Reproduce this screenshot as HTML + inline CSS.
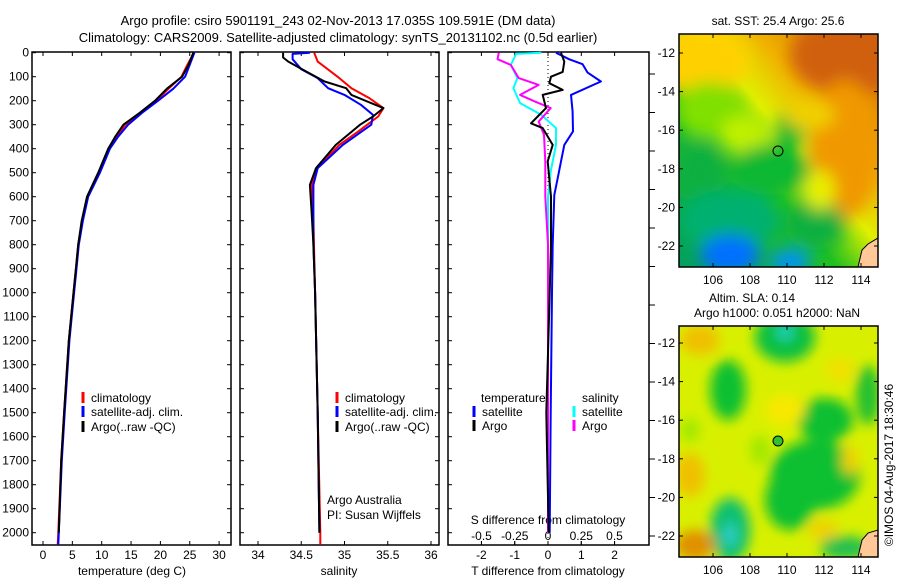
<!DOCTYPE html>
<html><head><meta charset="utf-8"><style>
html,body{margin:0;padding:0;background:#fff;}
svg{display:block;font-family:"Liberation Sans",sans-serif;}
text{font-size:12px;fill:#000;}
</style></head><body>
<svg id="fig" width="900" height="580" viewBox="0 0 900 580" xmlns="http://www.w3.org/2000/svg">
<defs>
<filter id="blur1" x="-20%" y="-20%" width="140%" height="140%"><feGaussianBlur stdDeviation="8"/></filter>
<filter id="blur2" x="-20%" y="-20%" width="140%" height="140%"><feGaussianBlur stdDeviation="6"/></filter>
<clipPath id="clipM1"><rect x="679" y="34" width="199" height="233"/></clipPath>
<clipPath id="clipM2"><rect x="679" y="326" width="199" height="231"/></clipPath>
<linearGradient id="g1" x1="0" y1="1" x2="1" y2="0">
<stop offset="0" stop-color="#00a060"/><stop offset="0.4" stop-color="#20c020"/><stop offset="0.55" stop-color="#e0f000"/><stop offset="0.7" stop-color="#f0b000"/><stop offset="1" stop-color="#d06000"/></linearGradient>
</defs>
<text x="338" y="25" text-anchor="middle" style="font-size:13px">Argo profile: csiro 5901191_243 02-Nov-2013 17.035S 109.591E (DM data)</text>
<text x="338" y="42" text-anchor="middle" style="font-size:13px">Climatology: CARS2009. Satellite-adjusted climatology: synTS_20131102.nc (0.5d earlier)</text>
<g id="axes"></g>
<g id="series"></g>
<g id="legends"></g>
<!-- Map 1: SST -->
<g>
<text x="778" y="25" text-anchor="middle">sat. SST: 25.4 Argo: 25.6</text>
<g clip-path="url(#clipM1)">
<rect x="679" y="34" width="199" height="233" fill="url(#g1)"/>
<g filter="url(#blur1)">
<ellipse cx="700" cy="60" rx="50" ry="35" fill="#ffd000"/>
<ellipse cx="850" cy="55" rx="60" ry="40" fill="#d06010"/>
<ellipse cx="845" cy="150" rx="35" ry="70" fill="#f09800"/>
<ellipse cx="710" cy="110" rx="35" ry="28" fill="#80e000"/>
<ellipse cx="745" cy="135" rx="25" ry="20" fill="#c0f000"/>
<ellipse cx="770" cy="170" rx="40" ry="25" fill="#10b830"/>
<ellipse cx="790" cy="130" rx="15" ry="20" fill="#10b830"/>
<ellipse cx="700" cy="175" rx="25" ry="35" fill="#10b040"/>
<ellipse cx="730" cy="220" rx="50" ry="30" fill="#00b070"/>
<ellipse cx="730" cy="255" rx="30" ry="20" fill="#0070ff"/>
<ellipse cx="790" cy="262" rx="20" ry="12" fill="#0090ff"/>
<ellipse cx="815" cy="225" rx="30" ry="25" fill="#10b040"/>
<ellipse cx="820" cy="190" rx="15" ry="20" fill="#e8f000"/>
<ellipse cx="810" cy="115" rx="25" ry="15" fill="#f0d000"/>
</g>
<polygon points="858,267 862,250 868,244 878,238 878,267" fill="#ffc896" stroke="#000" stroke-width="1"/>
</g>
<circle cx="778" cy="151" r="5" fill="none" stroke="#000" stroke-width="1"/>
<rect x="679" y="34" width="199" height="233" fill="none" stroke="#000" stroke-width="1.5"/>
<g id="map1ticks"></g>
</g>
<!-- Map 2: SLA -->
<g>
<text x="752" y="302" text-anchor="middle">Altim. SLA: 0.14</text>
<text x="777" y="317" text-anchor="middle">Argo h1000: 0.051 h2000: NaN</text>
<g clip-path="url(#clipM2)">
<rect x="679" y="326" width="199" height="231" fill="#d8f000"/>
<g filter="url(#blur2)">
<ellipse cx="785" cy="337" rx="30" ry="25" fill="#10c040"/>
<ellipse cx="785" cy="332" rx="8" ry="8" fill="#20d0c0"/>
<ellipse cx="728" cy="390" rx="18" ry="30" fill="#10c030"/>
<ellipse cx="825" cy="420" rx="28" ry="22" fill="#10c030"/>
<ellipse cx="815" cy="475" rx="45" ry="35" fill="#10c030"/>
<ellipse cx="790" cy="500" rx="25" ry="30" fill="#10c030"/>
<ellipse cx="868" cy="395" rx="12" ry="30" fill="#20c030"/>
<ellipse cx="730" cy="530" rx="20" ry="32" fill="#10c070"/>
<ellipse cx="730" cy="535" rx="6" ry="12" fill="#30d0d0"/>
<ellipse cx="700" cy="340" rx="20" ry="15" fill="#f0c000"/>
<ellipse cx="690" cy="475" rx="15" ry="22" fill="#f0c000"/>
<ellipse cx="695" cy="545" rx="20" ry="15" fill="#e09000"/>
<ellipse cx="823" cy="530" rx="15" ry="10" fill="#f0d000"/>
<ellipse cx="850" cy="460" rx="8" ry="15" fill="#f0d000"/>
<ellipse cx="785" cy="410" rx="20" ry="15" fill="#f8e800"/>
<ellipse cx="845" cy="548" rx="25" ry="12" fill="#20c050"/>
<ellipse cx="840" cy="370" rx="15" ry="12" fill="#f0e000"/>
<ellipse cx="690" cy="430" rx="10" ry="12" fill="#a0e800"/>
<ellipse cx="760" cy="450" rx="10" ry="15" fill="#a0e800"/>
</g>
<polygon points="858,557 862,540 868,533 878,530 878,557" fill="#ffc896" stroke="#000" stroke-width="1"/>
</g>
<circle cx="778" cy="441" r="5" fill="#30c030" stroke="#000" stroke-width="1"/>
<rect x="679" y="326" width="199" height="231" fill="none" stroke="#000" stroke-width="1.5"/>
<g id="map2ticks"></g>
</g>
<text x="893" y="465" text-anchor="middle" transform="rotate(-90 893 465)">©IMOS 04-Aug-2017 18:30:46</text>
</svg>
<script>
// ---- data ----
const tDepthBlack = [0,50,100,150,200,250,300,350,400,500,600,700,800,900,1000,1200,1500,1700,2000];
const tempArgo =    [25.6,24.8,23.7,21.1,19.1,16.5,13.7,12.3,11.1,9.4,7.5,6.6,6.0,5.6,5.2,4.4,3.6,3.1,2.7];
const tDepthClim = [0,50,100,150,200,250,300,350,400,500,600,700,800,900,1000,1200,1500,1700,2000,2050];
const tempClim =   [25.7,24.6,23.6,21.4,19.3,16.8,14.0,12.5,11.2,9.5,7.6,6.7,6.0,5.6,5.2,4.4,3.6,3.1,2.6,2.5];
const tempSat =    [25.8,25.0,24.2,22.2,19.6,16.9,14.5,12.8,11.4,9.7,7.7,6.8,6.1,5.7,5.3,4.5,3.7,3.2,2.7,2.6];

const sDepthArgo = [0,20,37,71,120,148,176,231,266,300,384,481,551,663,800,1000,1500,2000];
const salArgo =    [34.29,34.29,34.35,34.52,34.77,35.02,35.08,35.45,35.33,35.18,34.90,34.67,34.60,34.62,34.64,34.66,34.69,34.71];
const sDepthClim = [0,37,106,148,190,231,266,328,384,481,551,700,1000,1500,2000,2050];
const salClim =    [34.65,34.69,34.94,35.08,35.29,35.45,35.39,35.16,34.94,34.68,34.62,34.64,34.66,34.69,34.72,34.72];
const sDepthSat =  [0,5,27,69,106,148,176,217,259,300,384,481,551,800,1000,1500,2000];
const salSat =     [34.60,34.40,34.40,34.50,34.69,34.81,35.00,35.19,35.33,35.31,34.98,34.69,34.64,34.64,34.66,34.69,34.71];

const dDepthTSat = [0,27,48,83,120,176,245,328,384,453,523,593,800,1000,1500,2000];
const dTSat =      [0.24,0.63,1.04,1.19,1.59,0.69,0.74,0.75,0.49,0.39,0.29,0.19,0.14,0.12,0.08,0.05];
const dDepthTArgo = [0,37,80,100,127,155,176,231,266,294,314,384,453,600,800,1000,1500,2000];
const dTArgo =      [0.39,0.49,0.44,0.09,0.04,0.44,-0.16,-0.06,-0.31,-0.51,-0.16,0.14,-0.01,0.09,0.09,0.05,-0.05,0.02];
const dDepthSArgo = [0,27,51,106,134,176,203,231,287,342,453,600,800,1000,1500,2000];
const dSArgo =      [-0.37,-0.38,-0.28,-0.22,-0.07,-0.21,-0.10,0.02,-0.07,-0.03,-0.02,-0.02,0,0,0,0];
const dDepthSSat = [0,5,51,106,148,210,259,314,384,495,600,800,1000,1500,2000];
const dSSat =      [-0.05,-0.24,-0.28,-0.23,-0.26,-0.21,-0.05,0.06,0.06,0.02,0,0,0,0,0];

const depthTicks = [0,100,200,300,400,500,600,700,800,900,1000,1100,1200,1300,1400,1500,1600,1700,1800,1900,2000];
const tempTicks = [0,5,10,15,20,25,30];
const salTicks = [34,34.5,35,35.5,36];
const salTickLabels = ["34","34.5","35","35.5","36"];
const dTTicks = [-2,-1,0,1,2];
const dSTicks = [-0.5,-0.25,0,0.25,0.5];
const dSTickLabels = ["-0.5","-0.25","0","0.25","0.5"];
const lonTicks = [106,108,110,112,114];
const latTicks = [-12,-14,-16,-18,-20,-22];

// ---- scales ----
const TOP=52.7, BOT=545;
const yD = d => TOP + d*0.24;
const xT = t => 43 + t*5.87;
const xS = s => 258 + (s-34)*86.5;
const xdT = t => 548 + t*33.3;
const xdS = s => 548 + s*133;
const NS='http://www.w3.org/2000/svg';
function mk(tag, attrs, parent){const e=document.createElementNS(NS,tag);for(const k in attrs)e.setAttribute(k,attrs[k]);parent.appendChild(e);return e;}
const axes=document.getElementById('axes'), series=document.getElementById('series'), legends=document.getElementById('legends');

const panels=[{x0:32,x1:231,name:'temperature-panel'},{x0:240,x1:439,name:'salinity-panel'},{x0:448,x1:649,name:'difference-panel'}];
panels.forEach(p=>{
  const r=mk('rect',{x:p.x0,y:52,width:p.x1-p.x0,height:BOT-52,fill:'none',stroke:'#000','stroke-width':1.5},axes);
  
  
});
depthTicks.forEach(d=>{
  const y=yD(d);
  if(y>BOT) return;
  [[32,36],[227,231],[240,244],[435,439],[448,452]].forEach(a=>mk('line',{x1:a[0],x2:a[1],y1:y,y2:y,stroke:'#000'},axes));
  const t=mk('text',{x:29,y:y+4,'text-anchor':'end'},axes); t.textContent=d;
  
  
});
for(let k=0;k<13;k++){const y=536-k*38.5; if(y<52)break; mk('line',{x1:649,x2:655,y1:y,y2:y,stroke:'#000'},axes);}
function xAxis(vals, labels, f, top){
  vals.forEach((v,i)=>{
    const x=f(v);
    mk('line',{x1:x,x2:x,y1:BOT,y2:BOT-4,stroke:'#000'},axes);
    mk('line',{x1:x,x2:x,y1:52,y2:56,stroke:'#000'},axes);
    const t=mk('text',{x:x,y:top,'text-anchor':'middle'},axes); t.textContent=labels[i];
    
    
  });
}
xAxis(tempTicks,tempTicks.map(String),xT,559);
xAxis(salTicks,salTickLabels,xS,559);
xAxis(dTTicks,dTTicks.map(String),xdT,559);
dSTicks.forEach((v,i)=>{const x=xdS(v);const t=mk('text',{x:x,y:540,'text-anchor':'middle'},axes);t.textContent=dSTickLabels[i];
  
  
  mk('line',{x1:x,x2:x,y1:BOT,y2:BOT-4,stroke:'#000'},axes);});
[[132,575,'temperature (deg C)','temp-axis-title'],[339,575,'salinity','salinity-axis-title'],[548,575,'T difference from climatology','t-diff-axis-title'],[548,524,'S difference from climatology','s-diff-axis-title']].forEach(a=>{
  const t=mk('text',{x:a[0],y:a[1],'text-anchor':'middle'},axes); t.textContent=a[2];
  
  
});
mk('line',{x1:548,x2:548,y1:53,y2:BOT,stroke:'#000','stroke-dasharray':'1,3'},axes);

function line(depths, vals, fx, color, w, name){
  const pts=depths.map((d,i)=>fx(vals[i]).toFixed(1)+','+yD(d).toFixed(1)).join(' ');
  const e=mk('polyline',{points:pts,fill:'none',stroke:color,'stroke-width':w,'stroke-linejoin':'round'},series);
  
  
}
line(tDepthClim,tempClim,xT,'#f00',2,'temp-climatology-line');
line(tDepthClim,tempSat,xT,'#00f',2,'temp-satellite-line');
line(tDepthBlack,tempArgo,xT,'#000',2,'temp-argo-line');
line(sDepthClim,salClim,xS,'#f00',2,'salinity-climatology-line');
line(sDepthSat,salSat,xS,'#00f',2,'salinity-satellite-line');
line(sDepthArgo,salArgo,xS,'#000',2,'salinity-argo-line');
line(dDepthSSat,dSSat,xdS,'#00ffff',2,'s-diff-satellite-line');
line(dDepthSArgo,dSArgo,xdS,'#ff00ff',2,'s-diff-argo-line');
line(dDepthTSat,dTSat,xdT,'#00f',2,'t-diff-satellite-line');
line(dDepthTArgo,dTArgo,xdT,'#000',2,'t-diff-argo-line');

function legend(x, y, color, label){
  if(color) mk('rect',{x:x-1.5,y:y-6,width:3,height:11,fill:color},legends);
  const t=mk('text',{x:x+8,y:y+4},legends); t.textContent=label;
  
  
}
[83,337].forEach(x=>{
  legend(x,398,'#f00','climatology');
  legend(x,412,'#00f','satellite-adj. clim.');
  legend(x,427,'#000','Argo(..raw -QC)');
});
legend(473,398,null,'temperature');
legend(474,412,'#00f','satellite');
legend(474,426,'#000','Argo');
legend(574,398,null,'salinity');
legend(574,412,'#00ffff','satellite');
legend(574,426,'#ff00ff','Argo');
[['Argo Australia',504],['PI: Susan Wijffels',519]].forEach(a=>{
  const t=mk('text',{x:327,y:a[1]},legends); t.textContent=a[0];
  
  
});

function mapTicks(gid, y0, y1, latY0){
  const g=document.getElementById(gid);
  lonTicks.forEach(l=>{const x=713+(l-106)*18.5;
    mk('line',{x1:x,x2:x,y1:y1,y2:y1-4,stroke:'#000'},g);
    mk('line',{x1:x,x2:x,y1:y0,y2:y0+4,stroke:'#000'},g);
    const t=mk('text',{x:x,y:y1+17,'text-anchor':'middle'},g); t.textContent=l;
    
    
  });
  latTicks.forEach(l=>{const y=latY0+(-12-l)*19.3;
    mk('line',{x1:679,x2:683,y1:y,y2:y,stroke:'#000'},g);
    mk('line',{x1:874,x2:878,y1:y,y2:y,stroke:'#000'},g);
    const t=mk('text',{x:675,y:y+4,'text-anchor':'end'},g); t.textContent=l;
    
    
  });
}
mapTicks('map1ticks',34,267,53);
mapTicks('map2ticks',326,557,343);
</script>
</body></html>
